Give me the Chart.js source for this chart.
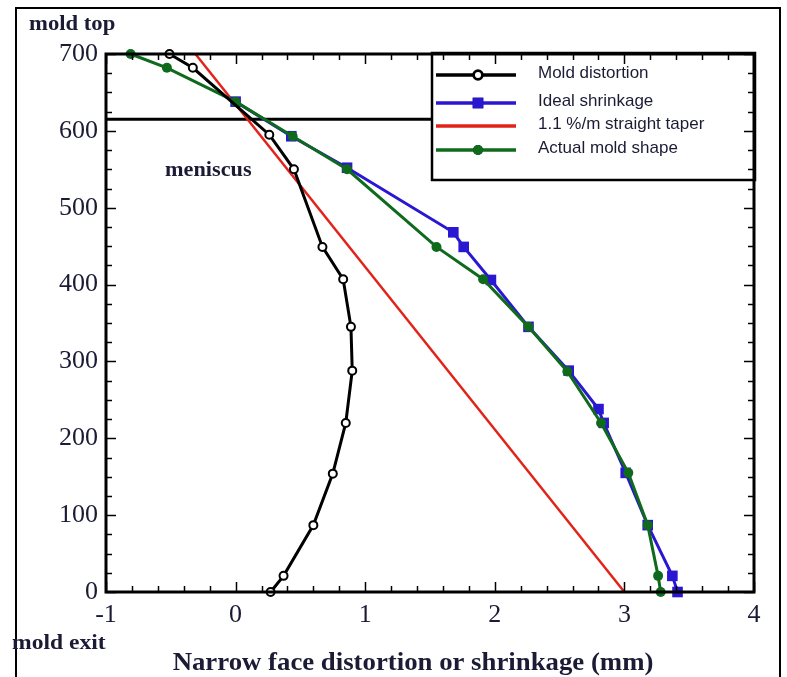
<!DOCTYPE html>
<html>
<head>
<meta charset="utf-8">
<script src="https://cdn.jsdelivr.net/npm/chart.js@4.4.1/dist/chart.umd.min.js"></script>
<style>
  html, body { margin: 0; padding: 0; background: #fff; }
  #wrap { width: 787px; height: 677px; }
</style>
</head>
<body>
<div id="wrap"><canvas id="chart" width="787" height="677"></canvas></div>
<script>
// values: x = distortion / shrinkage (mm), y = distance above mold exit (mm)
const moldX = [-0.51, -0.33, 0.26, 0.45, 0.67, 0.83, 0.89, 0.90, 0.85, 0.75, 0.60, 0.37, 0.27];
const moldY = [700, 682, 595, 550, 449, 407, 345, 288, 220, 154, 87, 21, 0];

const idealX = [0.00, 0.43, 0.86, 1.68, 1.76, 1.97, 2.26, 2.57, 2.80, 2.84, 3.01, 3.18, 3.37, 3.41];
const idealY = [638, 593, 552, 468, 449, 406, 345, 288, 238, 220, 155, 87, 21, 0];

const taperX = [-0.31, 3.00];
const taperY = [700, 0];

const actualX = [-0.81, -0.53, 0.00, 0.44, 0.86, 1.55, 1.91, 2.26, 2.56, 2.82, 3.03, 3.18, 3.26, 3.28];
const actualY = [700, 682, 638, 593, 550, 449, 407, 345, 287, 220, 155, 87, 21, 0];

// meniscus level line (runs up to the legend box)
const meniscusX = [-1, 1.52];
const meniscusY = [615, 615];

const xTicks = [-1, 0, 1, 2, 3, 4];
const yTicks = [0, 100, 200, 300, 400, 500, 600, 700];

const TEXT = "#1b1b35";
const SERIF = "'Liberation Serif', 'Times New Roman', serif";
const SANS = "'Liberation Sans', Arial, sans-serif";

function pts(xs, ys) {
  return xs.map((x, i) => ({ x: x, y: ys[i] }));
}

// the scanned figure is a bit wider than normal type, so stretch free text sideways
function wideText(ctx, text, x, y, sx) {
  ctx.save();
  ctx.translate(x, y);
  ctx.scale(sx, 1);
  ctx.fillText(text, 0, 0);
  ctx.restore();
}

// legend box, inward ticks on all four sides, frame
const framePlugin = {
  id: "frame",
  afterDatasetsDraw(chart) {
    const { ctx, chartArea: a, scales } = chart;
    const x = scales.x, y = scales.y;

    const lx = 432, ly = 53, lw = 323, lh = 127;
    ctx.save();
    ctx.fillStyle = "#fff";
    ctx.fillRect(lx, ly, lw, lh);
    ctx.strokeStyle = "#000";
    ctx.lineWidth = 2.5;
    ctx.strokeRect(lx, ly, lw, lh);

    const rows = [
      { ds: 0, y: 75, ty: 73, text: "Mold distortion" },
      { ds: 1, y: 103, ty: 101, text: "Ideal shrinkage" },
      { ds: 2, y: 126, ty: 124, text: "1.1 %/m straight taper" },
      { ds: 3, y: 150, ty: 148, text: "Actual mold shape" }
    ];
    rows.forEach((r) => {
      const d = chart.data.datasets[r.ds];
      ctx.strokeStyle = d.borderColor;
      ctx.lineWidth = 3.5;
      ctx.beginPath();
      ctx.moveTo(436, r.y);
      ctx.lineTo(516, r.y);
      ctx.stroke();
      if (d.pointRadius > 0) {
        Chart.helpers.drawPoint(ctx, {
          pointStyle: d.pointStyle,
          radius: d.pointRadius,
          borderWidth: d.pointBorderWidth
        }, 478, r.y);
        ctx.fillStyle = d.pointBackgroundColor;
        ctx.fill();
        if (d.pointBorderWidth > 0) {
          ctx.strokeStyle = d.borderColor;
          ctx.lineWidth = d.pointBorderWidth;
          ctx.stroke();
        }
      }
      ctx.fillStyle = TEXT;
      ctx.font = "17px " + SANS;
      ctx.textBaseline = "middle";
      ctx.textAlign = "left";
      ctx.fillText(r.text, 538, r.ty);
    });

    ctx.strokeStyle = "#000";
    ctx.lineWidth = 1.5;
    ctx.beginPath();
    for (let i = 0; i <= 25; i++) {
      const v = -1 + i * 0.2;
      const px = Math.round(x.getPixelForValue(v)) + 0.5;
      const len = i % 5 === 0 ? 10 : 6;
      ctx.moveTo(px, a.bottom); ctx.lineTo(px, a.bottom - len);
      ctx.moveTo(px, a.top); ctx.lineTo(px, a.top + len);
    }
    for (let i = 0; i <= 28; i++) {
      const v = i * 25;
      const py = Math.round(y.getPixelForValue(v)) + 0.5;
      const len = i % 4 === 0 ? 10 : 6;
      ctx.moveTo(a.left, py); ctx.lineTo(a.left + len, py);
      ctx.moveTo(a.right, py); ctx.lineTo(a.right - len, py);
    }
    ctx.stroke();

    ctx.lineWidth = 3;
    ctx.strokeRect(a.left, a.top, a.right - a.left, a.bottom - a.top);
    ctx.restore();
  },
  afterDraw(chart) {
    const ctx = chart.ctx;
    ctx.save();
    // outer picture border
    ctx.strokeStyle = "#000";
    ctx.lineWidth = 2;
    ctx.beginPath();
    ctx.moveTo(16, 677);
    ctx.lineTo(16, 8);
    ctx.lineTo(780, 8);
    ctx.lineTo(780, 677);
    ctx.stroke();

    ctx.fillStyle = TEXT;
    ctx.textBaseline = "alphabetic";
    ctx.textAlign = "left";
    ctx.font = "bold 21px " + SERIF;
    wideText(ctx, "mold top", 29, 30, 1.08);
    wideText(ctx, "meniscus", 165, 176, 1.06);
    ctx.font = "bold 20px " + SERIF;
    wideText(ctx, "mold exit", 12, 649, 1.18);
    ctx.textAlign = "center";
    ctx.font = "bold 26px " + SERIF;
    wideText(ctx, "Narrow face distortion or shrinkage (mm)", 413, 670, 1.03);
    ctx.restore();
  }
};

new Chart(document.getElementById("chart"), {
  type: "scatter",
  data: {
    datasets: [
      {
        label: "Mold distortion",
        data: pts(moldX, moldY),
        showLine: true,
        clip: false,
        borderColor: "#000",
        borderWidth: 3,
        pointStyle: "circle",
        pointRadius: 4,
        pointBorderWidth: 2,
        pointBackgroundColor: "#fff",
        pointBorderColor: "#000",
        order: 0
      },
      {
        label: "Ideal shrinkage",
        data: pts(idealX, idealY),
        showLine: true,
        clip: false,
        borderColor: "#2a17d2",
        borderWidth: 3,
        pointStyle: "rect",
        pointRadius: 7.5,
        pointBorderWidth: 0,
        pointBackgroundColor: "#2a17d2",
        pointBorderColor: "#2a17d2",
        order: 2
      },
      {
        label: "1.1 %/m straight taper",
        data: pts(taperX, taperY),
        showLine: true,
        clip: false,
        borderColor: "#e2231a",
        borderWidth: 2.5,
        pointRadius: 0,
        order: 3
      },
      {
        label: "Actual mold shape",
        data: pts(actualX, actualY),
        showLine: true,
        clip: false,
        borderColor: "#0f6a1c",
        borderWidth: 3,
        pointStyle: "circle",
        pointRadius: 5,
        pointBorderWidth: 0,
        pointBackgroundColor: "#0f6a1c",
        pointBorderColor: "#0f6a1c",
        order: 1
      },
      {
        label: "meniscus",
        data: pts(meniscusX, meniscusY),
        showLine: true,
        borderColor: "#000",
        borderWidth: 3,
        pointRadius: 0,
        order: 4
      }
    ]
  },
  options: {
    responsive: false,
    animation: false,
    layout: { padding: { left: 0, top: 54, right: 33, bottom: 0 } },
    plugins: {
      legend: { display: false },
      tooltip: { enabled: false }
    },
    scales: {
      x: {
        type: "linear",
        min: -1,
        max: 4,
        afterBuildTicks: (axis) => { axis.ticks = xTicks.map((v) => ({ value: v })); },
        afterFit: (axis) => { axis.height = 85; },
        grid: { display: false, drawTicks: false },
        border: { display: false },
        ticks: {
          padding: 8,
          color: TEXT,
          font: { family: SERIF, size: 26 },
          callback: (v) => String(v)
        }
      },
      y: {
        type: "linear",
        min: 0,
        max: 700,
        afterBuildTicks: (axis) => { axis.ticks = yTicks.map((v) => ({ value: v })); },
        afterFit: (axis) => { axis.width = 106; },
        grid: { display: false, drawTicks: false },
        border: { display: false },
        ticks: {
          padding: 8,
          color: TEXT,
          font: { family: SERIF, size: 26 },
          callback: (v) => String(v)
        }
      }
    }
  },
  plugins: [framePlugin]
});
</script>
</body>
</html>
